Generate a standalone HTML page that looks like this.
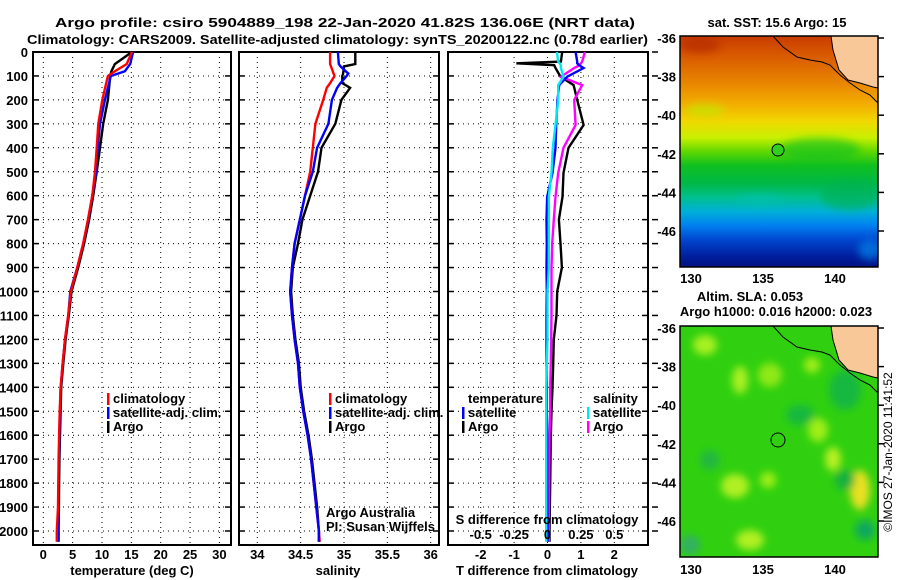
<!DOCTYPE html>
<html><head><meta charset="utf-8"><style>
html,body{margin:0;padding:0;background:#fff;}
svg{display:block;font-family:"Liberation Sans",Arial,sans-serif;}
.b{font-weight:bold;font-size:13px;}
</style></head><body>
<svg id="fig" width="900" height="580" viewBox="0 0 900 580">
<defs>
<linearGradient id="sstg" x1="0" y1="0" x2="0" y2="1">
<stop offset="0" stop-color="#c83c00"/><stop offset="0.08" stop-color="#d85800"/>
<stop offset="0.2" stop-color="#e88400"/><stop offset="0.3" stop-color="#f4b000"/>
<stop offset="0.37" stop-color="#f0d800"/><stop offset="0.44" stop-color="#c8f000"/>
<stop offset="0.5" stop-color="#60d800"/><stop offset="0.56" stop-color="#10c020"/>
<stop offset="0.64" stop-color="#00b848"/><stop offset="0.7" stop-color="#00c090"/>
<stop offset="0.76" stop-color="#00b0d8"/><stop offset="0.82" stop-color="#0080f0"/>
<stop offset="0.88" stop-color="#0048d0"/><stop offset="0.95" stop-color="#0020a0"/>
<stop offset="1" stop-color="#001080"/></linearGradient>
<filter id="blur"><feGaussianBlur stdDeviation="4"/></filter>
<clipPath id="c1"><rect x="680" y="36" width="198" height="231"/></clipPath>
<clipPath id="c2"><rect x="680" y="326" width="198" height="231"/></clipPath>
</defs>
<text class="b" x="55" y="27" font-size="15" textLength="580" lengthAdjust="spacingAndGlyphs">Argo profile: csiro 5904889_198 22-Jan-2020 41.82S 136.06E (NRT data)</text>
<text class="b" x="27" y="44" font-size="15" textLength="621" lengthAdjust="spacingAndGlyphs">Climatology: CARS2009. Satellite-adjusted climatology: synTS_20200122.nc (0.78d earlier)</text>
<g id="panels"></g>
<g id="maps">
 <g clip-path="url(#c1)">
  <rect x="680" y="36" width="198" height="231" fill="url(#sstg)"/>
  <g filter="url(#blur)" opacity="0.6">
   <ellipse cx="820" cy="150" rx="40" ry="12" fill="#10c020"/>
   <ellipse cx="705" cy="110" rx="20" ry="6" fill="#b8f000"/>
   <ellipse cx="850" cy="195" rx="30" ry="15" fill="#00b050"/>
   <ellipse cx="700" cy="45" rx="20" ry="8" fill="#b02800"/>
   <ellipse cx="870" cy="250" rx="12" ry="10" fill="#0090f0"/>
   <ellipse cx="760" cy="200" rx="25" ry="6" fill="#00c0b0"/>
  </g>
  <polygon points="831,36 833,50 839,70 848,80 860,83 873,87 878,88 878,36" fill="#f8c898"/>
  <polyline points="773,36 783,47 797,57 810,60 822,62 830,65 840,75 850,83 860,90 870,95 878,103" fill="none" stroke="#000" stroke-width="1"/>
  <polyline points="831,36 833,50 839,70 848,80 860,83 873,87 878,88" fill="none" stroke="#000" stroke-width="1"/>
  <circle cx="778" cy="150" r="6" fill="#30d020" stroke="#000" stroke-width="1"/>
 </g>
 <rect x="680" y="36" width="198" height="231" fill="none" stroke="#000" stroke-width="1.5"/>
 <text class="b" x="777" y="27" text-anchor="middle">sat. SST: 15.6 Argo: 15</text>
 <g clip-path="url(#c2)">
  <rect x="680" y="326" width="198" height="231" fill="#30d010"/>
  <g filter="url(#blur)">
   <ellipse cx="740" cy="380" rx="8" ry="14" fill="#a8f020"/>
   <ellipse cx="705" cy="345" rx="12" ry="10" fill="#a8f020"/>
   <ellipse cx="770" cy="375" rx="12" ry="12" fill="#90e818"/>
   <ellipse cx="812" cy="365" rx="8" ry="8" fill="#a0ee18"/>
   <ellipse cx="818" cy="430" rx="10" ry="12" fill="#a0ee18"/>
   <ellipse cx="735" cy="486" rx="14" ry="12" fill="#b0f020"/>
   <ellipse cx="833" cy="459" rx="8" ry="12" fill="#b8f020"/>
   <ellipse cx="860" cy="490" rx="10" ry="20" fill="#e8e020"/>
   <ellipse cx="768" cy="480" rx="8" ry="8" fill="#a0ee18"/>
   <ellipse cx="750" cy="540" rx="14" ry="10" fill="#b0f020"/>
   <ellipse cx="800" cy="415" rx="14" ry="10" fill="#18b840"/>
   <ellipse cx="845" cy="390" rx="16" ry="20" fill="#18b840"/>
   <ellipse cx="845" cy="480" rx="10" ry="10" fill="#18b040"/>
   <ellipse cx="865" cy="530" rx="10" ry="10" fill="#10a860"/>
   <ellipse cx="690" cy="545" rx="10" ry="10" fill="#30b060"/>
   <ellipse cx="710" cy="460" rx="10" ry="10" fill="#20b840"/>
  </g>
  <polygon points="831,326 833,340 839,360 848,370 860,373 873,377 878,378 878,326" fill="#f8c898"/>
  <polyline points="773,326 783,337 797,347 810,350 822,352 830,355 840,365 850,373 860,380 870,385 878,393" fill="none" stroke="#000" stroke-width="1"/>
  <polyline points="831,326 833,340 839,360 848,370 860,373 873,377 878,378" fill="none" stroke="#000" stroke-width="1"/>
  <circle cx="778" cy="440" r="7" fill="none" stroke="#000" stroke-width="1"/>
 </g>
 <rect x="680" y="326" width="198" height="231" fill="none" stroke="#000" stroke-width="1.5"/>
 <text class="b" x="750" y="301" text-anchor="middle">Altim. SLA: 0.053</text>
 <text class="b" x="776" y="316" text-anchor="middle">Argo h1000: 0.016 h2000: 0.023</text>
 <text x="892" y="452" font-size="12" text-anchor="middle" transform="rotate(-90 892 452)">©IMOS 27-Jan-2020 11:41:52</text>
</g>
</svg>
<script>
// ---- profile data (depth in m) ----
const tDepth = [0,50,80,100,200,300,400,500,600,700,800,900,1000,1100,1200,1300,1400,1500,1600,1700,1800,1900,2000,2045];
const tClim  = [15.1,14.2,12.2,11.0,10.05,9.37,9.1,8.8,8.35,7.6,6.8,5.8,4.7,4.25,3.7,3.3,2.95,2.8,2.7,2.6,2.55,2.5,2.3,2.3];
const tSat   = [15.3,14.8,13.9,11.5,10.5,9.66,9.27,9.0,8.35,7.67,6.8,5.8,4.6,4.26,3.7,3.3,2.96,2.85,2.75,2.65,2.6,2.55,2.5,2.5];
const tArgo  = [15.1,12.2,11.6,11.4,11.0,10.2,9.66,9.1,8.5,7.8,6.95,5.95,4.8,4.35,3.8,3.4,3.05,2.95,2.85,2.75,2.7,2.65,2.6,2.6];
const sDepth = [0,50,60,90,100,130,150,200,300,400,500,600,700,800,900,1000,1100,1200,1300,1400,1500,1600,1700,1800,1900,2000,2045];
const sClim  = [34.84,34.84,34.85,34.88,34.89,34.84,34.8,34.76,34.67,34.64,34.61,34.55,34.49,34.43,34.4,34.38,34.4,34.43,34.47,34.49,34.53,34.58,34.62,34.65,34.68,34.71,34.72];
const sSat   = [34.93,34.94,34.96,35.05,35.03,34.96,34.92,34.86,34.82,34.69,34.64,34.55,34.49,34.43,34.4,34.38,34.4,34.43,34.47,34.49,34.53,34.58,34.62,34.65,34.68,34.71,34.71];
const sArgo  = [35.13,35.13,35.0,34.99,34.98,34.98,35.07,34.97,34.9,34.74,34.7,34.61,34.52,34.47,34.41,34.39,34.41,34.44,34.48,34.5,34.54,34.59,34.63,34.66,34.69,34.71,34.71];
const dDepth = [0,40,47,55,67,103,138,200,305,400,505,604,700,800,900,1000,1100,1200,1300,1400,1500,1600,1800,2000,2045];
const dTArgo = [0.44,0.4,-0.93,0.2,0.24,0.39,0.78,0.89,1.08,0.63,0.48,0.45,0.34,0.39,0.43,0.29,0.27,0.19,0.17,0.15,0.12,0.1,0.08,0.06,0.06];
const dTSat  = [0.84,0.89,0.89,0.95,1.08,0.59,0.35,0.3,0.26,0.24,0.15,-0.01,-0.03,-0.02,-0.03,-0.02,-0.03,-0.03,-0.03,-0.02,-0.02,-0.01,-0.01,0.0,0.0];
const dSArgo = [0.28,0.26,0.25,0.24,0.2,0.1,0.26,0.2,0.21,0.12,0.08,0.06,0.047,0.035,0.03,0.03,0.03,0.028,0.025,0.02,0.02,0.015,0.012,0.01,0.01];
const dSSat  = [0.07,0.08,0.09,0.1,0.1,0.12,0.08,0.08,0.06,0.04,0.03,0.01,0.01,0.01,0.01,0.0,0.0,0.0,-0.005,-0.01,-0.01,-0.01,-0.01,-0.01,-0.01];
const depthTicks = [0,100,200,300,400,500,600,700,800,900,1000,1100,1200,1300,1400,1500,1600,1700,1800,1900,2000];
const tTicks = [0,5,10,15,20,25,30];
const sTicks = [34,34.5,35,35.5,36];
const dTTicks = [-2,-1,0,1,2];
const dSTicks = [-0.5,-0.25,0,0.25,0.5];
const latTicks = [-36,-38,-40,-42,-44,-46];
const lonTicks = [130,135,140];
(function(){
const NS='http://www.w3.org/2000/svg';
const root=document.getElementById('panels');
const yD = d => 52 + 0.2395*d;
const xT = t => 43.3 + 5.87*t;
const xS = s => 257.3 + 86.7*(s-34);
const xDT = t => 547.5 + 33.4*t;
const xDS = s => 547.5 + 133.6*s;
function mk(tag,attrs,parent){const e=document.createElementNS(NS,tag);for(const k in attrs)e.setAttribute(k,attrs[k]);(parent||root).appendChild(e);return e;}
function txt(x,y,s,anchor,cls,parent){const e=mk('text',{x:x,y:y,'text-anchor':anchor||'middle','class':cls||'b'},parent);e.textContent=s;return e;}
function stepLine(xs,ds,fx,color,name){
  let pts=[];
  for(let i=0;i<xs.length;i++){pts.push(fx(xs[i]).toFixed(1)+','+yD(ds[i]).toFixed(1));}
  const p=mk('polyline',{points:pts.join(' '),fill:'none',stroke:color,'stroke-width':2.4,'stroke-linejoin':'miter'});
  
  
}
const panels=[[33,231],[239,439],[448,648]];
const pTop=52,pBot=545;
panels.forEach((pp,i)=>{
  const g=mk('g',{});
  
  
  depthTicks.forEach(d=>{
    if(d>0) mk('line',{x1:pp[0],x2:pp[1],y1:yD(d),y2:yD(d),stroke:'#000','stroke-width':1,'stroke-dasharray':'1,4'},g);
    mk('line',{x1:pp[0],x2:pp[0]+6,y1:yD(d),y2:yD(d),stroke:'#000','stroke-width':1.5},g);
    mk('line',{x1:pp[1]-6,x2:pp[1],y1:yD(d),y2:yD(d),stroke:'#000','stroke-width':1.5},g);
  });
  let ticks=[tTicks,sTicks,dTTicks][i], fx=[xT,xS,xDT][i];
  ticks.forEach(t=>{
    mk('line',{x1:fx(t),x2:fx(t),y1:pTop,y2:pBot,stroke:'#000','stroke-width':1,'stroke-dasharray':'1,4'},g);
    const l=txt(fx(t),559,String(t),'middle','b',g);
    
    
  });
  mk('rect',{x:pp[0],y:pTop,width:pp[1]-pp[0],height:pBot-pTop,fill:'none',stroke:'#000','stroke-width':2},g);
});
depthTicks.forEach(d=>{ mk('line',{x1:652,x2:658,y1:yD(d),y2:yD(d),stroke:'#000','stroke-width':1.5}); });
depthTicks.forEach(d=>{
  const l=txt(28,yD(d)+5,String(d),'end','b');
  
  
});
stepLine(tArgo,tDepth,xT,'#000','temp-argo-line');
stepLine(tSat,tDepth,xT,'#0000ff','temp-satellite-line');
stepLine(tClim,tDepth,xT,'#ff0000','temp-climatology-line');
stepLine(sArgo,sDepth,xS,'#000','salinity-argo-line');
stepLine(sClim,sDepth,xS,'#ff0000','salinity-climatology-line');
stepLine(sSat,sDepth,xS,'#0000ff','salinity-satellite-line');
stepLine(dTArgo,dDepth,xDT,'#000','tdiff-argo-line');
stepLine(dSArgo,dDepth,xDS,'#ff00ff','sdiff-argo-line');
stepLine(dTSat,dDepth,xDT,'#0000ff','tdiff-satellite-line');
stepLine(dSSat,dDepth,xDS,'#00e8f0','sdiff-satellite-line');
dSTicks.forEach(s=>{
  const l=txt(xDS(s),539,String(s),'middle','b');
  
  
});
[[132,'temperature (deg C)','x-axis-title-temperature'],[338,'salinity','x-axis-title-salinity'],[547,'T difference from climatology','x-axis-title-tdiff']].forEach(a=>{
  const l=txt(a[0],575,a[1]);
  
  
});
const sd=txt(547,524,'S difference from climatology');


function legend(x,y,label,color){
  const g=mk('g',{});
  
  
  if(color) mk('rect',{x:x-6,y:y-10,width:2.5,height:12,fill:color},g);
  txt(x,y,label,'start','b',g);
}
legend(113,403,'climatology','#ff0000');legend(113,417,'satellite-adj. clim.','#0000ff');legend(113,431,'Argo','#000');
legend(335,403,'climatology','#ff0000');legend(335,417,'satellite-adj. clim.','#0000ff');legend(335,431,'Argo','#000');
legend(468,403,'temperature',null);legend(468,417,'satellite','#0000ff');legend(468,431,'Argo','#000');
legend(593,403,'salinity',null);legend(593,417,'satellite','#00e8f0');legend(593,431,'Argo','#ff00ff');
const c1=txt(326,517,'Argo Australia','start','');c1.setAttribute('font-size','12');


const c2=txt(326,531,'PI: Susan Wijffels','start','');c2.setAttribute('font-size','12');


const mapG=document.getElementById('maps');
[[38,278],[328,569]].forEach(m=>{
  latTicks.forEach(la=>{
    const y=m[0]+19.3*(-36-la);
    mk('line',{x1:878,x2:884,y1:y,y2:y,stroke:'#000','stroke-width':1.5},mapG);
    const l=txt(676,y+5,String(la),'end','b',mapG);
    
    
  });
  lonTicks.forEach(lo=>{
    const x=691+14.4*(lo-130);
    const l=txt(x,m[1]+5,String(lo),'middle','b',mapG);
    
    
  });
});
})();
</script>
</body></html>
